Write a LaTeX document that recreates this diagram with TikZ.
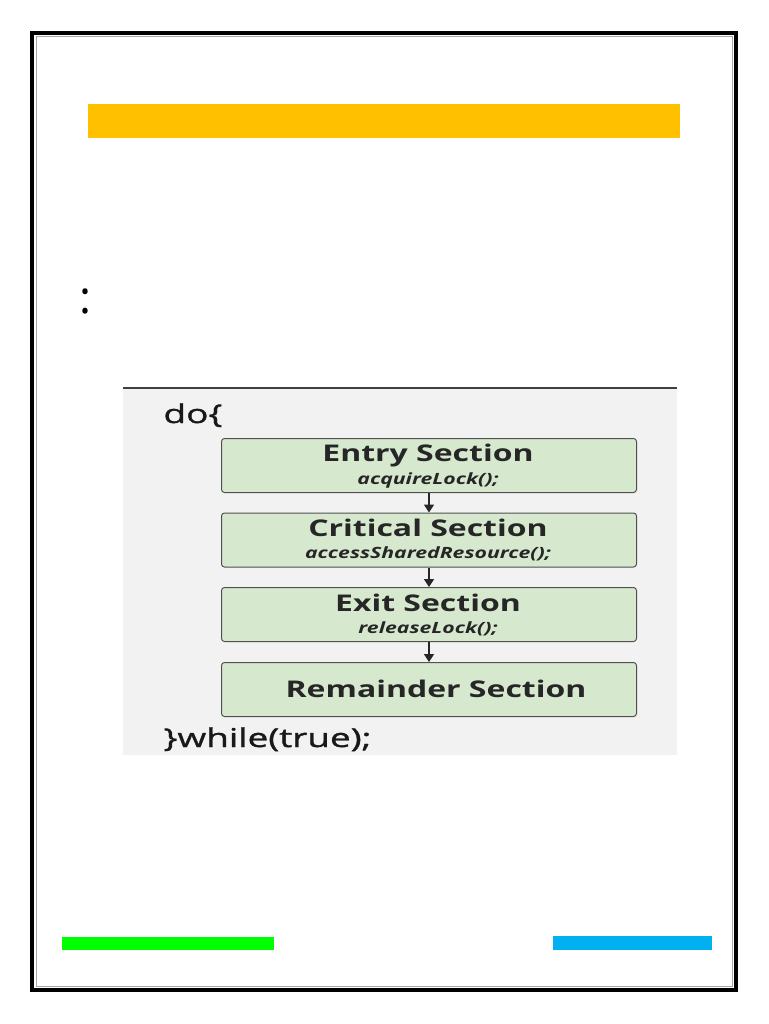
\documentclass[tikz,border=0pt]{standalone}
\usepackage{fontspec}
\setmainfont{Open Sans}
\newfontfamily\codefont[FakeStretch=1.42, FakeBold=1.3]{Open Sans}
\newfontfamily\titlefont[FakeStretch=1.39]{Open Sans}
\newfontfamily\subfont[FakeStretch=1.37]{Open Sans}
\usetikzlibrary{arrows.meta}
\definecolor{yellowbar}{HTML}{FFC000}
\definecolor{greenbar}{HTML}{00FF00}
\definecolor{bluebar}{HTML}{00B0F0}
\definecolor{panelbg}{HTML}{F2F2F2}
\definecolor{boxfill}{HTML}{D6E9CF}
\definecolor{boxline}{HTML}{505050}
\tikzset{
  secbox/.style={draw=boxline, line width=1pt, fill=boxfill, rounded corners=3pt,
    minimum width=415pt, minimum height=54pt, inner sep=0pt, anchor=north west},
  title/.style={font=\titlefont\bfseries\fontsize{23}{26}\selectfont, text=black!85, anchor=base},
  sub/.style={font=\subfont\bfseries\itshape\fontsize{15.5}{18}\selectfont, text=black!85, anchor=base},
  flow/.style={-{Triangle[length=8pt,width=10pt]}, line width=1.6pt, black!85},
  code/.style={font=\codefont\fontsize{26}{30}\selectfont, text=black!90, anchor=base west}
}
\begin{document}
\begin{tikzpicture}[x=1pt,y=-1pt]
\useasboundingbox (0,0) rectangle (768,1024);
\fill[white] (0,0) rectangle (768,1024);
% page border
\draw[line width=4pt] (32,33) rectangle (736,990);
\draw[gray!70, line width=0.7pt] (36,36.5) rectangle (732.5,986.5);
% bars
\fill[yellowbar] (88,104) rectangle (680,138);
\fill[greenbar] (62,937) rectangle (274,950);
\fill[bluebar] (553,936) rectangle (712,950);
% colon
\node[font=\fontsize{45}{50}\selectfont, anchor=base] (colon) at (85.5,313) {:};
% panel
\fill[panelbg] (123,388) rectangle (677,755);
\draw[black!75, line width=2pt] (123,388) -- (677,388);
\node[code] (do) at (160,423) {do\{};
\node[code] (wh) at (160,747) {\}while(true);};
% sections
\node[secbox] (b1) at (221,438) {};
\node[secbox] (b2) at (221,512.5) {};
\node[secbox] (b3) at (221,587) {};
\node[secbox] (b4) at (221,662) {};
\node[title] (t1) at (428,461) {Entry Section};
\node[sub] (s1) at (428,484) {acquireLock();};
\node[title] (t2) at (428,536) {Critical Section};
\node[sub] (s2) at (428,558) {accessSharedResource();};
\node[title] (t3) at (428,611) {Exit Section};
\node[sub] (s3) at (428,633) {releaseLock();};
\node[title] (t4) at (436,697) {Remainder Section};
\draw[flow] (b1.south -| s1) ++(1,0) coordinate (a1) -- (a1 |- b2.north);
\draw[flow] (b2.south -| s1) ++(1,0) coordinate (a2) -- (a2 |- b3.north);
\draw[flow] (b3.south -| s1) ++(1,0) coordinate (a3) -- (a3 |- b4.north);
\end{tikzpicture}
\end{document}
